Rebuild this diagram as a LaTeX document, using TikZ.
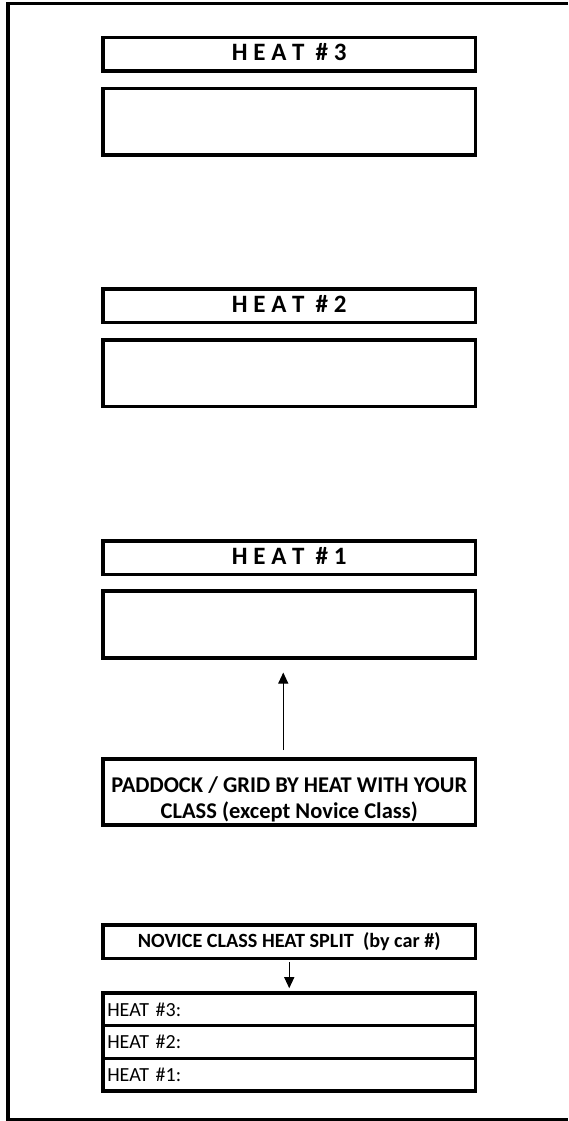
\documentclass[tikz,border=0pt]{standalone}
\usepackage{fontspec}
\setmainfont{Carlito}
\usetikzlibrary{arrows.meta}

\begin{document}
\begin{tikzpicture}[x=1pt,y=-1pt,
  box/.style={draw,line width=3.6pt,minimum width=372.5pt,inner sep=0pt},
  titlebox/.style={box,minimum height=33.5pt,font=\bfseries\fontsize{25}{29}\selectfont,text height=16.2pt,text depth=3pt},
  heatbox/.style={box,minimum height=66.5pt},
  rowbox/.style={box,inner xsep=4.25pt,minimum height=32.67pt,font=\fontsize{20}{24}\selectfont,text width=364pt,align=left,text height=13.5pt,text depth=0pt},
  arrowline/.style={-{Triangle[width=10pt,length=11pt]},line width=1.1pt}]
\useasboundingbox (0,0) rectangle (568,1121);
\draw[line width=3.5pt] (568,3.5) -- (8,3.5) -- (8,1119.8) -- (568,1119.8);
\node[titlebox] (title3) at (289.25,54.25) {H E A T\ \ \# 3};
\node[heatbox] (heat3) at (289.25,121.75) {};
\node[titlebox] (title2) at (289.25,305.75) {H E A T\ \ \# 2};
\node[heatbox] (heat2) at (289.25,373.25) {};
\node[titlebox] (title1) at (289.25,557.75) {H E A T\ \ \# 1};
\node[heatbox] (heat1) at (289.25,624.5) {};
\node[box,minimum height=66pt,align=center,font=\bfseries\fontsize{22.5}{25.7}\selectfont,text height=52pt,text depth=0pt] (paddock) at (289.25,792) {PADDOCK / GRID BY HEAT WITH YOUR\\CLASS (except Novice Class)};
\node[titlebox,font=\bfseries\fontsize{20.2}{24}\selectfont,text height=12.3pt,text depth=1.8pt] (novice) at (289.25,941.75) {NOVICE CLASS HEAT SPLIT\ \ (by car \#)};
\node[rowbox] (row3) at (289.25,1009.33) {HEAT \#3:};
\node[rowbox] (row2) at (289.25,1042) {HEAT \#2:};
\node[rowbox] (row1) at (289.25,1074.67) {HEAT \#1:};
\draw[arrowline,shorten <=7pt,shorten >=13pt] ([xshift=-6pt]paddock.north) -- ([xshift=-6pt]heat1.south);
\draw[arrowline,shorten <=2pt,shorten >=3pt] (novice.south) -- (row3.north);
\end{tikzpicture}
\end{document}
